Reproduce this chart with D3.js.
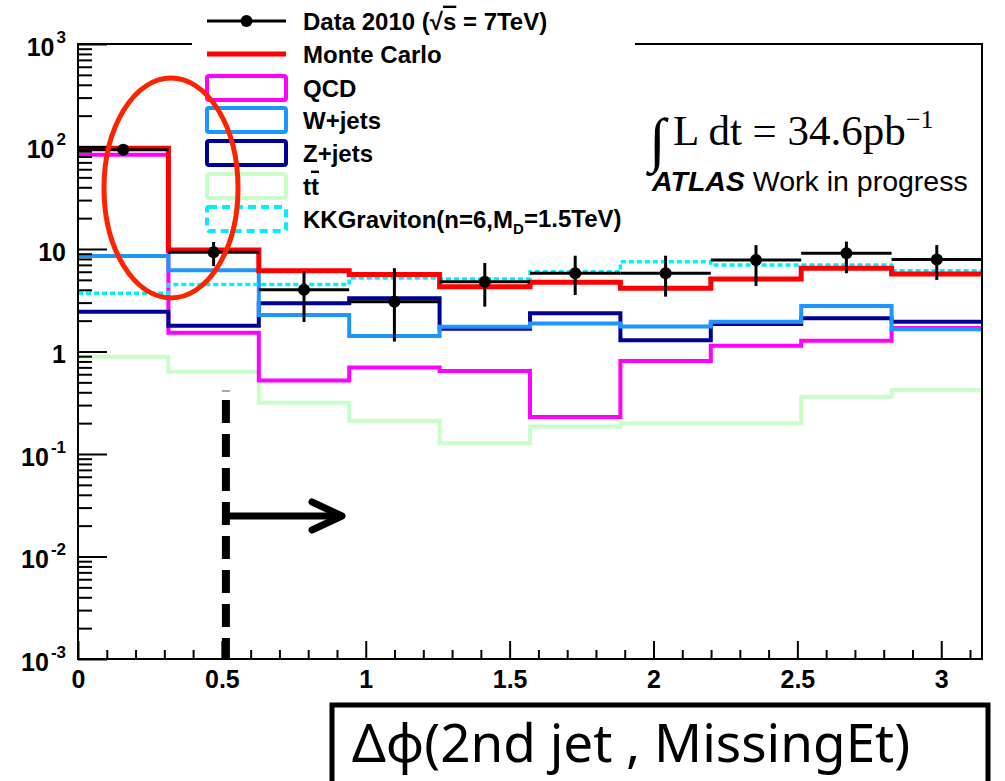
<!DOCTYPE html>
<html>
<head>
<meta charset="utf-8">
<script src="https://cdn.jsdelivr.net/npm/d3@7"></script>
<style>
  html, body { margin: 0; padding: 0; background: #fff; }
  svg { display: block; }
</style>
</head>
<body>
<svg id="chart" width="1005" height="781"></svg>
<script>
// ---------- data ----------
const binCount = 10;
const xMax = Math.PI;
const qcd   = [83, 1.52, 0.52, 0.70, 0.645, 0.23, 0.81, 1.14, 1.27, 1.7];
const wjets = [8.55, 6.2, 2.27, 1.42, 1.74, 1.88, 1.75, 1.95, 2.78, 1.65];
const zjets = [2.44, 1.78, 2.95, 3.31, 1.67, 2.36, 1.29, 1.85, 2.11, 1.95];
const ttbar = [0.89, 0.635, 0.316, 0.211, 0.127, 0.184, 0.199, 0.20, 0.362, 0.42];
const kkgrav = [3.7, 4.5, 4.5, 5.2, 5.1, 6.0, 7.5, 6.98, 7.0, 6.14];
const monteCarlo = [96, 9.8, 6.14, 5.65, 4.29, 4.73, 4.14, 5.1, 6.48, 5.7];
const dataVals = [93, 9.3, 4.0, 3.06, 4.8, 5.8, 5.8, 7.8, 9.1, 7.9];
const dataHi   = [100, 11.7, 6.1, 6.5, 7.3, 8.6, 8.6, 10.9, 11.8, 10.9];
const dataLo   = [86, 6.8, 1.94, 1.25, 2.74, 3.56, 3.43, 4.36, 5.8, 4.99];

const xMajorTicks = [0, 0.5, 1, 1.5, 2, 2.5, 3];
const xTickLabels = ["0", "0.5", "1", "1.5", "2", "2.5", "3"];
const yTickValues = [1e-3, 1e-2, 1e-1, 1, 10, 1e2, 1e3];
const yTickBase = ["10", "10", "10", "1", "10", "10", "10"];
const yTickExp  = ["-3", "-2", "-1", "", "", "2", "3"];

const legendLabels = ["Data 2010", "Monte Carlo", "QCD", "W+jets", "Z+jets", "t", "KKGraviton(n=6,M"];

// ---------- layout ----------
const svg = d3.select("#chart");
const L = 78, R = 982, T = 44, B = 659;
const x = d3.scaleLinear().domain([0, xMax]).range([L, R]);
const y = d3.scaleLog().domain([1e-3, 1e3]).range([B, T]);
const edges = d3.range(binCount + 1).map(i => i * xMax / binCount);
const centers = d3.range(binCount).map(i => (edges[i] + edges[i + 1]) / 2);

const axisFont = "'Liberation Sans', Arial, sans-serif";

// clip
svg.append("defs").append("clipPath").attr("id", "plotclip")
  .append("rect").attr("x", L).attr("y", T).attr("width", R - L).attr("height", B - T);

// ---------- histograms ----------
const stepLine = d3.line().curve(d3.curveStepAfter).x(d => x(d[0])).y(d => y(d[1]));
function histPts(vals) {
  const pts = vals.map((v, i) => [edges[i], v]);
  pts.push([edges[binCount], vals[binCount - 1]]);
  return pts;
}
const gHist = svg.append("g").attr("clip-path", "url(#plotclip)");
const series = [
  { v: ttbar, c: "#C8FFC8", w: 4 },
  { v: qcd, c: "#FF00FF", w: 4 },
  { v: zjets, c: "#000099", w: 4 },
  { v: wjets, c: "#1E96FF", w: 4 },
  { v: kkgrav, c: "#00EEFF", w: 3.5, dash: "5,3" },
  { v: monteCarlo, c: "#FF0000", w: 5 }
];
series.forEach(s => {
  gHist.append("path")
    .attr("d", stepLine(histPts(s.v)))
    .attr("fill", "none")
    .attr("stroke", s.c)
    .attr("stroke-width", s.w)
    .attr("stroke-linejoin", "miter")
    .attr("stroke-dasharray", s.dash || null);
});

// data points
const gData = svg.append("g").attr("clip-path", "url(#plotclip)");
dataVals.forEach((v, i) => {
  gData.append("line")
    .attr("x1", x(edges[i])).attr("x2", x(edges[i + 1]))
    .attr("y1", y(v)).attr("y2", y(v))
    .attr("stroke", "#000").attr("stroke-width", 3);
  gData.append("line")
    .attr("x1", x(centers[i])).attr("x2", x(centers[i]))
    .attr("y1", y(dataHi[i])).attr("y2", y(dataLo[i]))
    .attr("stroke", "#000").attr("stroke-width", 3);
  gData.append("circle")
    .attr("cx", x(centers[i])).attr("cy", y(v)).attr("r", 6).attr("fill", "#000");
});

// ---------- axes ----------
const yMinor = [];
for (let e = -3; e < 3; e++) for (let m = 2; m <= 9; m++) yMinor.push(m * Math.pow(10, e));
svg.append("g").attr("transform", `translate(${L},0)`)
  .call(d3.axisLeft(y).tickValues(yMinor).tickSize(-14).tickSizeOuter(0).tickFormat(""))
  .call(g => g.select(".domain").remove())
  .selectAll("line").attr("stroke-width", 2);

const yAx = svg.append("g").attr("transform", `translate(${L},0)`)
  .call(d3.axisLeft(y).tickValues(yTickValues).tickSize(-29).tickSizeOuter(0).tickPadding(12).tickFormat(""));
yAx.select(".domain").remove();
yAx.selectAll("line").attr("stroke-width", 2);
yAx.selectAll(".tick text")
  .attr("font-family", axisFont).attr("font-weight", "bold").attr("font-size", 25)
  .attr("fill", "#000").attr("dy", "0.44em")
  .each(function (d, i) {
    const t = d3.select(this);
    t.append("tspan").text(yTickBase[i]);
    if (yTickExp[i]) t.append("tspan").attr("dx", 2).attr("dy", -13).attr("font-size", 17).text(yTickExp[i]);
  });

const xMinor = d3.range(0, 32).map(i => i / 10).filter(v => Math.abs(v * 2 - Math.round(v * 2)) > 1e-6);
svg.append("g").attr("transform", `translate(0,${B})`)
  .call(d3.axisBottom(x).tickValues(xMinor).tickSize(-9).tickSizeOuter(0).tickFormat(""))
  .call(g => g.select(".domain").remove())
  .selectAll("line").attr("stroke-width", 2);
const xAx = svg.append("g").attr("transform", `translate(0,${B})`)
  .call(d3.axisBottom(x).tickValues(xMajorTicks).tickSize(-18).tickSizeOuter(0).tickPadding(11)
    .tickFormat((d, i) => xTickLabels[i]));
xAx.select(".domain").remove();
xAx.selectAll("line").attr("stroke-width", 2);
xAx.selectAll("text").attr("font-family", axisFont).attr("font-weight", "bold")
  .attr("font-size", 25).attr("fill", "#000");

// frame
svg.append("rect").attr("x", L).attr("y", T).attr("width", R - L).attr("height", B - T)
  .attr("fill", "none").attr("stroke", "#000").attr("stroke-width", 2);

// ---------- legend ----------
svg.append("rect").attr("x", 192).attr("y", 0).attr("width", 443).attr("height", 237).attr("fill", "#fff");
const legY = [21, 54, 88, 120, 153, 186, 219];
const lg = svg.append("g");
const sx0 = 207, sx1 = 286, tx = 303;
// data
lg.append("line").attr("x1", sx0).attr("x2", sx1).attr("y1", legY[0]).attr("y2", legY[0])
  .attr("stroke", "#000").attr("stroke-width", 3);
lg.append("circle").attr("cx", (sx0 + sx1) / 2).attr("cy", legY[0]).attr("r", 6).attr("fill", "#000");
// MC
lg.append("line").attr("x1", sx0).attr("x2", sx1).attr("y1", legY[1]).attr("y2", legY[1])
  .attr("stroke", "#FF0000").attr("stroke-width", 5);
const boxes = [
  { c: "#FF00FF", i: 2 }, { c: "#1E96FF", i: 3 }, { c: "#000099", i: 4 },
  { c: "#C8FFC8", i: 5 }, { c: "#00EEFF", i: 6, dash: "8,5" }
];
boxes.forEach(b => {
  lg.append("rect").attr("x", sx0).attr("y", legY[b.i] - 12).attr("width", sx1 - sx0).attr("height", 24)
    .attr("rx", 2).attr("fill", "none").attr("stroke", b.c).attr("stroke-width", 4)
    .attr("stroke-dasharray", b.dash || null);
});
const legText = lg.selectAll("text.leg").data(legendLabels).enter().append("text")
  .attr("class", "leg")
  .attr("x", tx).attr("y", (d, i) => legY[i]).attr("dy", "0.36em")
  .attr("font-family", axisFont).attr("font-weight", "bold").attr("font-size", 24).attr("fill", "#000")
  .text(d => d);
// decorations on legend text
const t0 = legText.filter((d, i) => i === 0);
t0.append("tspan").text(" (\u221A");
t0.append("tspan").attr("text-decoration", "overline").text("s");
t0.append("tspan").text(" = 7TeV)");
const t5 = legText.filter((d, i) => i === 5);
t5.append("tspan").attr("text-decoration", "overline").text("t");
const t6 = legText.filter((d, i) => i === 6);
t6.append("tspan").attr("font-size", 15).attr("dy", "0.45em").text("D");
t6.append("tspan").attr("dy", "-0.3em").text("=1.5TeV)");

// ---------- annotations ----------
svg.append("text").attr("x", 649).attr("y", 160)
  .attr("font-family", "'Liberation Serif', 'Times New Roman', serif").attr("font-size", 60)
  .text("\u222B");
const lum = svg.append("text").attr("x", 673).attr("y", 145)
  .attr("font-family", "'Liberation Serif', 'Times New Roman', serif").attr("font-size", 43)
  .text("L dt = 34.6pb");
lum.append("tspan").attr("dy", -17).attr("font-size", 26).text("\u22121");

const atl = svg.append("text").attr("x", 652).attr("y", 191)
  .attr("font-family", axisFont).attr("font-size", 28.5).attr("fill", "#000");
atl.append("tspan").attr("font-weight", "bold").attr("font-style", "italic").text("ATLAS");
atl.append("tspan").text(" Work in progress");

// cut marker: dashed line + arrow
const cutX = 0.514;
svg.append("line").attr("x1", x(cutX)).attr("x2", x(cutX)).attr("y1", 400).attr("y2", B)
  .attr("stroke", "#000").attr("stroke-width", 8).attr("stroke-dasharray", "23,11");
svg.append("line").attr("x1", x(cutX) - 4).attr("x2", x(cutX) + 4).attr("y1", 391).attr("y2", 391)
  .attr("stroke", "#555").attr("stroke-width", 1);
svg.append("line").attr("x1", x(cutX)).attr("x2", 342).attr("y1", 516).attr("y2", 516)
  .attr("stroke", "#000").attr("stroke-width", 7);
svg.append("path").attr("d", "M312,502 L342,516 L312,530")
  .attr("fill", "none").attr("stroke", "#000").attr("stroke-width", 7)
  .attr("stroke-linecap", "round").attr("stroke-linejoin", "round");

// red ellipse
svg.append("ellipse").attr("cx", 171).attr("cy", 188).attr("rx", 67).attr("ry", 110)
  .attr("fill", "none").attr("stroke", "#FF2200").attr("stroke-width", 5);

// x title box
svg.append("rect").attr("x", 332).attr("y", 705).attr("width", 656).attr("height", 120)
  .attr("fill", "#fff").attr("stroke", "#000").attr("stroke-width", 5);
svg.append("text").attr("x", 352).attr("y", 762)
  .attr("font-family", "'Noto Sans', 'DejaVu Sans', sans-serif").attr("font-size", 53).attr("fill", "#000")
  .text("\u0394\u03C6(2nd jet , MissingEt)");
</script>
</body>
</html>
